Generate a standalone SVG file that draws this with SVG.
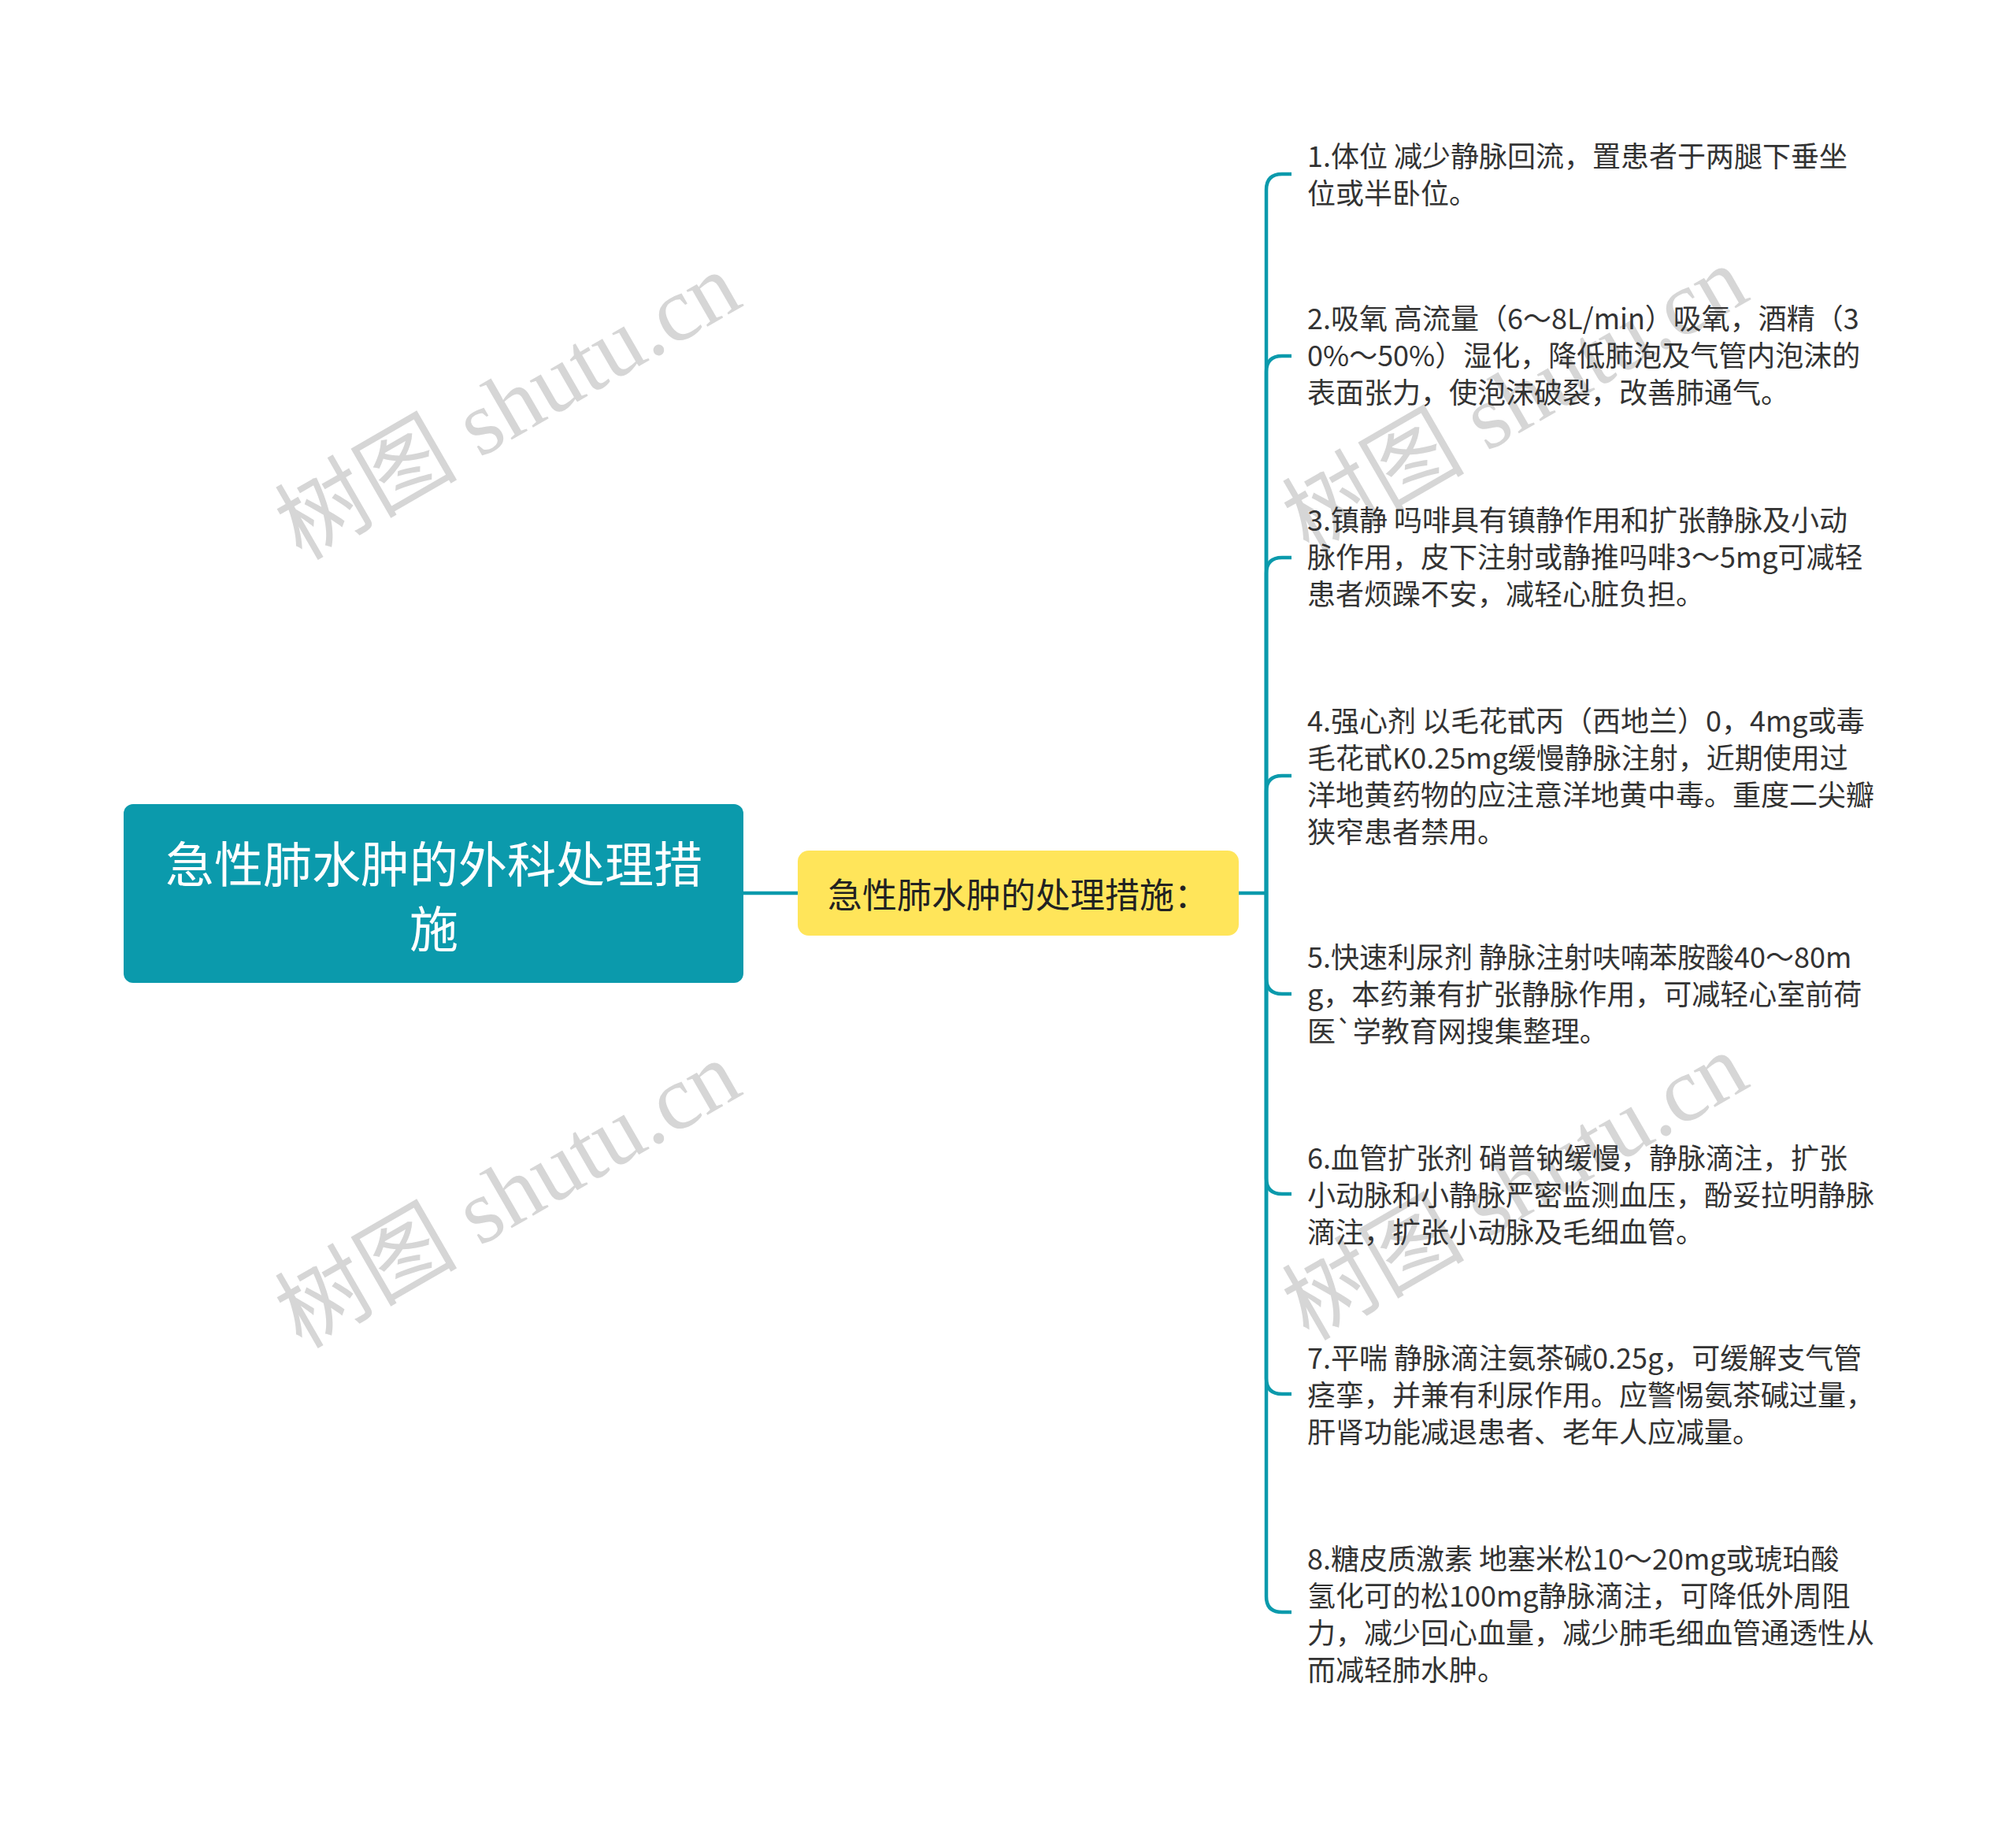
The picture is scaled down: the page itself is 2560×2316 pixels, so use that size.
<svg xmlns="http://www.w3.org/2000/svg" width="2560" height="2316" viewBox="0 0 2560 2316">
<style>
.wm{font-family:"Liberation Serif","Noto Sans CJK SC",serif;font-size:116px;fill:#d6d6d6;text-anchor:middle;dominant-baseline:central}
.conn{fill:none;stroke:#0b9aac;stroke-width:4.5;stroke-linecap:butt}
.leaf{font-family:"Noto Sans CJK SC",sans-serif;font-size:36px;fill:#333333}
.root{font-family:"Noto Sans CJK SC",sans-serif;font-size:62px;fill:#ffffff;text-anchor:middle;dominant-baseline:central}
.mid{font-family:"Noto Sans CJK SC",sans-serif;font-size:44px;fill:#222222;text-anchor:middle;dominant-baseline:central}
</style>
<rect width="2560" height="2316" fill="#ffffff"/>
<g id="watermarks">
<text class="wm" transform="translate(645,516) rotate(-30)">树图 shutu.cn</text>
<text class="wm" transform="translate(645,1517) rotate(-30)">树图 shutu.cn</text>
<text class="wm" transform="translate(1924,508) rotate(-30)">树图 shutu.cn</text>
<text class="wm" transform="translate(1924,1507) rotate(-30)">树图 shutu.cn</text>
</g>
<g id="connectors">
<path class="conn" d="M944 1134 L1013 1134"/>
<path class="conn" d="M1573 1134 L1608 1134"/>
<path class="conn" d="M1608 1134 L1608 241 Q1608 221 1628 221 L1640 221"/>
<path class="conn" d="M1608 1134 L1608 472 Q1608 452 1628 452 L1640 452"/>
<path class="conn" d="M1608 1134 L1608 728 Q1608 708 1628 708 L1640 708"/>
<path class="conn" d="M1608 1134 L1608 1005 Q1608 985 1628 985 L1640 985"/>
<path class="conn" d="M1608 1134 L1608 1242 Q1608 1262 1628 1262 L1640 1262"/>
<path class="conn" d="M1608 1134 L1608 1496 Q1608 1516 1628 1516 L1640 1516"/>
<path class="conn" d="M1608 1134 L1608 1750 Q1608 1770 1628 1770 L1640 1770"/>
<path class="conn" d="M1608 1134 L1608 2027 Q1608 2047 1628 2047 L1640 2047"/>
</g>
<g id="root">
<rect x="157" y="1021" width="787" height="227" rx="12" fill="#0b9aac"/>
<text class="root" x="551" y="1094">急性肺水肿的外科处理措</text>
<text class="root" x="551" y="1176">施</text>
</g>
<g id="mid">
<rect x="1013" y="1080" width="560" height="108" rx="14" fill="#ffe55a"/>
<text class="mid" x="1293" y="1134">急性肺水肿的处理措施：</text>
</g>
<g id="item1">
<text class="leaf" x="1660" y="212">1.体位 减少静脉回流，置患者于两腿下垂坐</text>
<text class="leaf" x="1660" y="259">位或半卧位。</text>
</g>
<g id="item2">
<text class="leaf" x="1660" y="418">2.吸氧 高流量（6～8L/min）吸氧，酒精（3</text>
<text class="leaf" x="1660" y="465">0%～50%）湿化，降低肺泡及气管内泡沫的</text>
<text class="leaf" x="1660" y="512">表面张力，使泡沫破裂，改善肺通气。</text>
</g>
<g id="item3">
<text class="leaf" x="1660" y="674">3.镇静 吗啡具有镇静作用和扩张静脉及小动</text>
<text class="leaf" x="1660" y="721">脉作用，皮下注射或静推吗啡3～5mg可减轻</text>
<text class="leaf" x="1660" y="768">患者烦躁不安，减轻心脏负担。</text>
</g>
<g id="item4">
<text class="leaf" x="1660" y="929">4.强心剂 以毛花甙丙（西地兰）0，4mg或毒</text>
<text class="leaf" x="1660" y="976">毛花甙K0.25mg缓慢静脉注射，近期使用过</text>
<text class="leaf" x="1660" y="1023">洋地黄药物的应注意洋地黄中毒。重度二尖瓣</text>
<text class="leaf" x="1660" y="1070">狭窄患者禁用。</text>
</g>
<g id="item5">
<text class="leaf" x="1660" y="1229">5.快速利尿剂 静脉注射呋喃苯胺酸40～80m</text>
<text class="leaf" x="1660" y="1276">g，本药兼有扩张静脉作用，可减轻心室前荷</text>
<text class="leaf" x="1660" y="1323">医`学教育网搜集整理。</text>
</g>
<g id="item6">
<text class="leaf" x="1660" y="1484">6.血管扩张剂 硝普钠缓慢，静脉滴注，扩张</text>
<text class="leaf" x="1660" y="1531">小动脉和小静脉严密监测血压，酚妥拉明静脉</text>
<text class="leaf" x="1660" y="1578">滴注，扩张小动脉及毛细血管。</text>
</g>
<g id="item7">
<text class="leaf" x="1660" y="1738">7.平喘 静脉滴注氨茶碱0.25g，可缓解支气管</text>
<text class="leaf" x="1660" y="1785">痉挛，并兼有利尿作用。应警惕氨茶碱过量，</text>
<text class="leaf" x="1660" y="1832">肝肾功能减退患者、老年人应减量。</text>
</g>
<g id="item8">
<text class="leaf" x="1660" y="1993">8.糖皮质激素 地塞米松10～20mg或琥珀酸</text>
<text class="leaf" x="1660" y="2040">氢化可的松100mg静脉滴注，可降低外周阻</text>
<text class="leaf" x="1660" y="2087">力，减少回心血量，减少肺毛细血管通透性从</text>
<text class="leaf" x="1660" y="2134">而减轻肺水肿。</text>
</g>
</svg>
